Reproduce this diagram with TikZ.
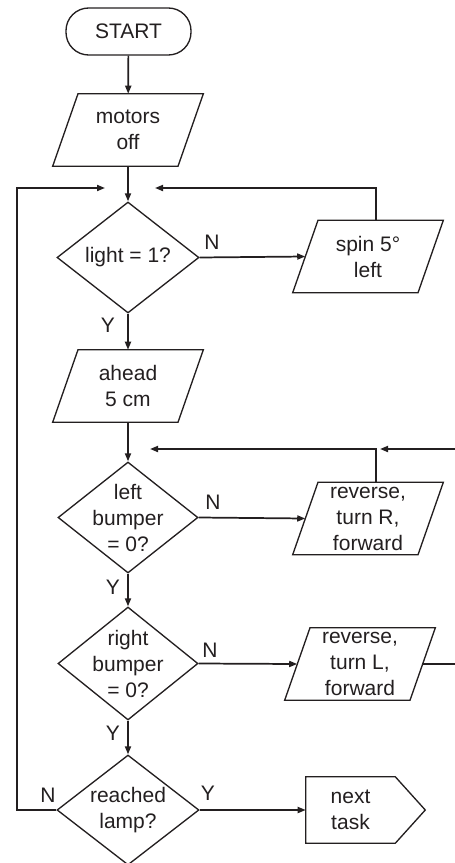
\documentclass[tikz,border=0pt]{standalone}
\usepackage{fontspec}
\setmainfont{Liberation Sans}
\usetikzlibrary{shapes.geometric,arrows.meta}
\definecolor{ink}{HTML}{231F20}
\begin{document}
\begin{tikzpicture}[x=0.75pt,y=-0.75pt,
 every node/.style={font=\fontsize{15.75}{19.5}\selectfont, text=ink},
 txt/.style={align=center, inner sep=0pt},
 termbox/.style={draw=ink, line width=1pt, rectangle, rounded corners=17pt, minimum width=93.75pt, minimum height=35.25pt},
 iobox/.style={rectangle, align=center, minimum width=93.75pt, minimum height=54pt, inner sep=0pt},
 ioline/.style={draw=ink, line width=1pt, line join=miter},
 decision/.style={draw=ink, line width=1pt, diamond, minimum width=106.5pt, minimum height=83.25pt, inner sep=0pt},
 nextbox/.style={rectangle, align=center, minimum width=66.75pt, minimum height=49.5pt, inner sep=0pt},
 flow/.style={draw=ink, line width=1.3pt, -{Triangle[length=6pt,width=4.5pt]}},
 lbl/.style={inner sep=0pt}
]
\useasboundingbox (0,0) rectangle (454,863);

% shapes
\node[termbox] (start) at (128.5,31.5) {START};
\node[iobox] (motors) at (128,130) {motors\\off};
\node[decision] (d1) at (128,257.5) {};
\node[txt] (d1T) at (d1) {light = 1?};
\node[iobox] (spin) at (368,256.5) {spin 5°\\left};
\node[iobox] (ahead) at (128,386) {ahead\\5 cm};
\node[decision,minimum width=105pt] (d2) at (128,517.5) {};
\node[txt] (d2T) at (d2) {left\\bumper\\= 0?};
\node[iobox] (revR) at (368,518.5) {reverse,\\turn R,\\forward};
\node[decision,minimum width=105pt,minimum height=84.75pt] (d3) at (128,663.5) {};
\node[txt] (d3T) at (d3) {right\\bumper\\= 0?};
\node[iobox] (revL) at (360,664) {reverse,\\turn L,\\forward};
\node[decision,minimum height=82.5pt] (d4) at (128,810) {};
\node[txt] (d4T) at (d4) {reached\\lamp?};
\node[nextbox] (next) at (350.5,810) {next\\task};

% parallelogram outlines
\foreach \n in {motors,spin,ahead,revR,revL}
  \draw[ioline] ([xshift=-37.5pt]\n.north) -- ([xshift=56.5pt]\n.north)
     -- ([xshift=37.5pt]\n.south) -- ([xshift=-56.5pt]\n.south) -- cycle;
% next-task outline
\draw[ioline] (next.north west) -- (next.north east) -- ([xshift=22.5pt]next.east)
   -- (next.south east) -- (next.south west) -- cycle;

% free ends
\coordinate (m1L) at (105,188);
\coordinate (m1R) at (155,188);
\coordinate (m2R) at (150,449);
\coordinate (m2RR) at (380,449);
\coordinate (edgeTop) at (458,449);
\coordinate (leftRail) at (17,810);

% connectors
\draw[flow] (start) -- (motors);
\draw[flow] (motors.south) -- (d1.north);
\draw[flow] (d1.east) -- (spin.west);
\draw[flow] ([xshift=6pt]spin.north) |- (m1R);
\draw[flow] (d1.south) -- (ahead.north);
\draw[flow] (ahead.south) -- (d2.north);
\draw[flow] (d2.east) -- (revR.west);
\draw[flow] ([xshift=6pt]revR.north) |- (m2R);
\draw[flow] (d2.south) -- (d3.north);
\draw[flow] (d3.east) -- (revL.west);
\draw[flow] (revL.east) -| (edgeTop) -- (m2RR);
\draw[flow] (d3.south) -- (d4.north);
\draw[flow] (d4.east) -- (next.west);
\draw[flow] (d4.west) -- (leftRail) |- (m1L);

% labels
\node[lbl] (n1) at (212,242) {N};
\node[lbl] (y1) at (108,325) {Y};
\node[lbl] (n2) at (213,502) {N};
\node[lbl] (y2) at (113,587) {Y};
\node[lbl] (n3) at (210,650) {N};
\node[lbl] (y3) at (113,733) {Y};
\node[lbl] (n4) at (48,795) {N};
\node[lbl] (y4) at (208,793) {Y};
\end{tikzpicture}
\end{document}
